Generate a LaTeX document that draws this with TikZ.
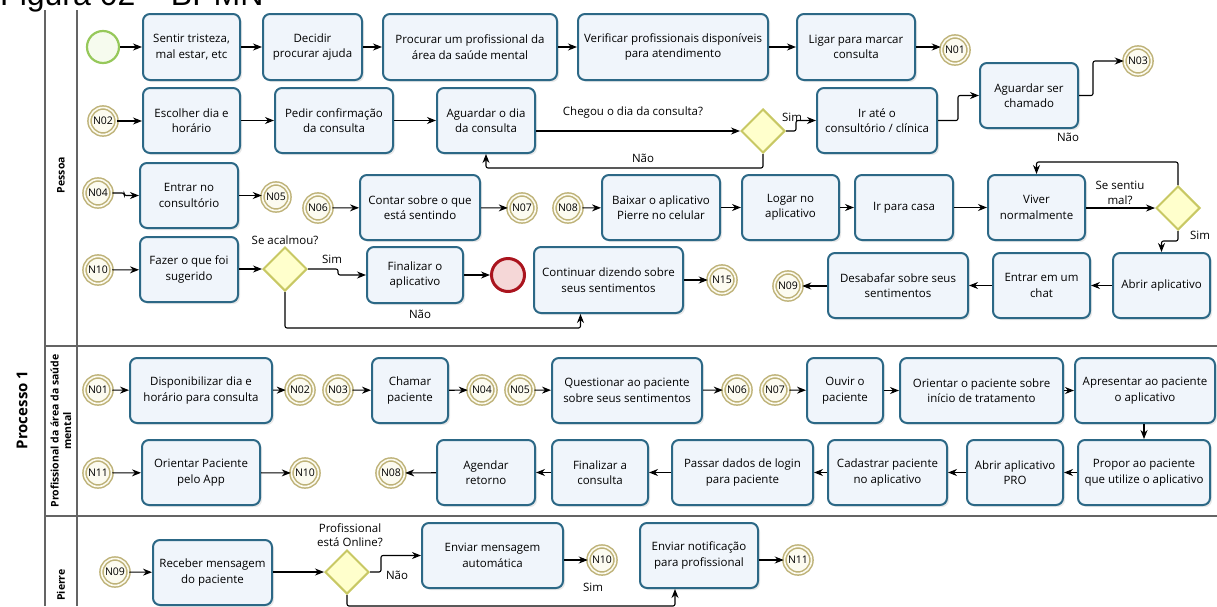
\documentclass[tikz,border=0pt]{standalone}
\usepackage{fontspec}
\setmainfont{Open Sans}
\newfontfamily\titlefont{Liberation Sans}
\usetikzlibrary{arrows.meta,shadows,shapes.geometric,calc}
\definecolor{taskborder}{RGB}{44,104,134}
\definecolor{taskfill}{RGB}{240,245,251}
\definecolor{evborder}{RGB}{190,178,120}
\definecolor{evfill}{RGB}{252,251,240}
\definecolor{gwborder}{RGB}{200,200,100}
\definecolor{gwfill}{RGB}{255,255,204}
\definecolor{startborder}{RGB}{150,200,90}
\definecolor{startfill}{RGB}{246,251,238}
\definecolor{endborder}{RGB}{170,20,30}
\definecolor{endfill}{RGB}{245,215,215}
\definecolor{laneline}{RGB}{100,100,100}
\tikzset{
  task/.style={draw=taskborder, line width=2pt, fill=taskfill, rounded corners=7pt,
    align=center, font=\fontsize{11.5}{15.5}\selectfont, inner sep=2pt,
    drop shadow={opacity=0.18, shadow xshift=2pt, shadow yshift=-2pt}},
  ievent/.style={circle, draw=evborder, line width=1.5pt, double=evfill, double distance=1.6pt,
    fill=evfill, minimum size=27pt, inner sep=0pt, font=\fontsize{10.5}{12}\selectfont},
  startev/.style={circle, draw=startborder, line width=2.2pt, fill=startfill, minimum size=32pt, inner sep=0pt},
  endev/.style={circle, draw=endborder, line width=3pt, fill=endfill, minimum size=33pt, inner sep=0pt},
  gateway/.style={diamond, draw=gwborder, line width=2pt, fill=gwfill, minimum width=44pt,
    minimum height=44pt, inner sep=0pt},
  flow/.style={draw=black, line width=1.1pt, rounded corners=2pt, -{Stealth[length=9pt,width=7pt]}},
  lbl/.style={font=\fontsize{11.5}{14.5}\selectfont, inner sep=0pt, align=center},
  lanelbl/.style={font=\bfseries\fontsize{10.5}{12.5}\selectfont, rotate=90, align=center, inner sep=0pt},
  poolline/.style={draw=laneline, line width=1.3pt}
}
\newcommand\tsk[6]{\node[task, minimum width={#4-#2}, minimum height={#5-#3}] (#1) at ({(#2+#4)/2},{(#3+#5)/2}) {#6};}
\begin{document}
\begin{tikzpicture}[x=1pt,y=-1pt]
\useasboundingbox (0,0) rectangle (1217,606);
% title (cut at top, as in the reference)
\node[anchor=base west, inner sep=0pt, font=\titlefont\fontsize{32}{36}\selectfont] (title) at (0,5) {Figura 02 – BPMN};
% pool and lanes
\draw[poolline] (45,10) -- (45,606);
\draw[poolline] (77,10) -- (77,606);
\draw[poolline] (45,346) -- (1217,346);
\draw[poolline] (45,516) -- (1217,516);
\node[font=\bfseries\fontsize{15}{17}\selectfont, rotate=90, inner sep=0pt] (proc) at (22,410) {Processo 1};
\node[lanelbl] (lpessoa) at (61,175) {Pessoa};
\node[lanelbl] (lprof) at (61,431) {Profissional da área da saúde\\mental};
\node[lanelbl] (lpierre) at (61,585) {Pierre};

% ---------------- Pessoa lane ----------------
% row 1
\node[startev] (start) at (103,47) {};
\tsk{s1}{143}{14}{240}{80}{Sentir tristeza,\\mal estar, etc}
\tsk{s2}{263}{14}{362}{80}{Decidir\\procurar ajuda}
\tsk{s3}{383}{14}{557}{80}{Procurar um profissional da\\área da saúde mental}
\tsk{s4}{578}{14}{768}{80}{Verificar profissionais disponíveis\\para atendimento}
\tsk{s5}{797}{14}{915}{80}{Ligar para marcar\\consulta}
\node[ievent] (n01a) at (955,50) {N01};
\draw[flow] (start) -- (s1);
\draw[flow] (s1) -- (s2);
\draw[flow] (s2) -- (s3);
\draw[flow] (s3) -- (s4);
\draw[flow] (s4) -- (s5);
\draw[flow] (s5.east) -- (s5.east -| n01a.west);

% row 2
\node[ievent] (n02a) at (103,121) {N02};
\tsk{esc}{143}{88}{240}{153}{Escolher dia e\\horário}
\tsk{ped}{275}{88}{393}{153}{Pedir confirmação\\da consulta}
\tsk{agd}{437}{88}{535}{153}{Aguardar o dia\\da consulta}
\node[gateway] (d1) at (763,131) {};
\tsk{ira}{817}{88}{937}{153}{Ir até o\\consultório / clínica}
\tsk{asc}{980}{63}{1078}{128}{Aguardar ser\\chamado}
\node[ievent] (n03a) at (1138,61) {N03};
\draw[flow] (n02a.east) -- (n02a.east -| esc.west);
\draw[flow] (esc) -- (ped);
\draw[flow] (ped) -- (agd);
\draw[flow] (d1.west -| agd.east) -- (d1.west);
\draw[flow] (d1.east) -- ++(10,0) |- (ira.west);
\draw[flow] (d1.south) -- ++(0,14) -| (agd.south);
\draw[flow] (ira.east) -- ++(20,0) |- (asc.west);
\draw[flow] (asc.east) -- ++(14,0) |- (n03a.west);
\node[lbl] (lchegou) at (633,113) {Chegou o dia da consulta?};
\node[lbl] (lsim1) at (792,117) {Sim};
\node[lbl] (lnao1) at (643,158) {Não};
\node[lbl] (lnao2) at (1068,137) {Não};

% row 3
\node[ievent] (n04a) at (98,193) {N04};
\tsk{ent}{140}{163}{238}{228}{Entrar no\\consultório}
\node[ievent] (n05a) at (276,197) {N05};
\node[ievent] (n06a) at (318,208) {N06};
\tsk{con}{360}{175}{480}{240}{Contar sobre o que\\está sentindo}
\node[ievent] (n07a) at (522,208) {N07};
\node[ievent] (n08a) at (568,208) {N08};
\tsk{bai}{602}{175}{720}{240}{Baixar o aplicativo\\Pierre no celular}
\tsk{log}{742}{175}{839}{240}{Logar no\\aplicativo}
\tsk{cas}{855}{175}{953}{240}{Ir para casa}
\tsk{viv}{988}{175}{1085}{240}{Viver\\normalmente}
\node[gateway] (d2) at (1178,208) {};
\draw[flow] (n04a.east) -- ++(12,0) |- (ent.west);
\draw[flow] (ent.east) -- (ent.east -| n05a.west);
\draw[flow] (n06a) -- (con);
\draw[flow] (con) -- (n07a);
\draw[flow] (n08a) -- (bai);
\draw[flow] (bai) -- (log);
\draw[flow] (log) -- (cas);
\draw[flow] (cas) -- (viv);
\draw[flow] (viv.east |- d2.west) -- (d2.west);
\draw[flow] (d2.north) -- ++(0,-23) -| (viv.north);
\node[lbl] (lsentiu) at (1120,193) {Se sentiu\\mal?};
\node[lbl] (lsim2) at (1200,235) {Sim};

% row 4
\node[ievent] (n10a) at (98,270) {N10};
\tsk{faz}{140}{237}{238}{302}{Fazer o que foi\\sugerido}
\node[gateway] (d3) at (285,269) {};
\tsk{fin}{367}{247}{463}{303}{Finalizar o\\aplicativo}
\node[endev] (endv) at (508,275) {};
\tsk{cnt}{534}{247}{683}{313}{Continuar dizendo sobre\\seus sentimentos}
\node[ievent] (n15a) at (722,280) {N15};
\node[ievent] (n09a) at (788,286) {N09};
\tsk{des}{828}{253}{968}{318}{Desabafar sobre seus\\sentimentos}
\tsk{cha}{993}{253}{1090}{318}{Entrar em um\\chat}
\tsk{abr}{1113}{253}{1210}{318}{Abrir aplicativo}
\draw[flow] (d2.south) -- ++(0,10) -| (abr.north);
\draw[flow] (n10a) -- (faz);
\draw[flow] (faz.east |- d3.west) -- (d3.west);
\draw[flow] (d3.east) -- ++(30,0) |- (fin.west);
\draw[flow] (fin) -- (endv);
\draw[flow] (cnt.east |- n15a.west) -- (n15a.west);
\draw[flow] (d3.south) -- ++(0,36) -| ([xshift=-28pt]cnt.south);
\draw[flow] (abr) -- (cha);
\draw[flow] (cha) -- (des);
\draw[flow] (des.west |- n09a.east) -- (n09a.east);
\node[lbl] (lacalmou) at (285,240) {Se acalmou?};
\node[lbl] (lsim3) at (332,259) {Sim};
\node[lbl] (lnao3) at (420,314) {Não};

% ---------------- Profissional lane ----------------
\node[ievent] (n01b) at (98,390) {N01};
\tsk{dis}{130}{358}{272}{423}{Disponibilizar dia e\\horário para consulta}
\node[ievent] (n02b) at (300,390) {N02};
\node[ievent] (n03b) at (338,390) {N03};
\tsk{chp}{372}{358}{448}{423}{Chamar\\paciente}
\node[ievent] (n04b) at (482,390) {N04};
\node[ievent] (n05b) at (520,390) {N05};
\tsk{que}{552}{358}{702}{423}{Questionar ao paciente\\sobre seus sentimentos}
\node[ievent] (n06b) at (737,390) {N06};
\node[ievent] (n07b) at (775,390) {N07};
\tsk{ouv}{807}{358}{883}{423}{Ouvir o\\paciente}
\tsk{ori}{900}{358}{1063}{423}{Orientar o paciente sobre\\início de tratamento}
\tsk{apr}{1075}{358}{1215}{423}{Apresentar ao paciente\\o aplicativo}
\draw[flow] (n01b) -- (dis);
\draw[flow] (dis) -- (n02b);
\draw[flow] (n03b) -- (chp);
\draw[flow] (chp) -- (n04b);
\draw[flow] (n05b) -- (que);
\draw[flow] (que) -- (n06b);
\draw[flow] (n07b) -- (ouv);
\draw[flow] (ouv) -- (ori);
\draw[flow] (ori) -- (apr);

\node[ievent] (n11b) at (98,473) {N11};
\tsk{opa}{142}{440}{260}{505}{Orientar Paciente\\pelo App}
\node[ievent] (n10b) at (305,473) {N10};
\node[ievent] (n08b) at (391,473) {N08};
\tsk{age}{437}{440}{535}{505}{Agendar\\retorno}
\tsk{fic}{552}{440}{648}{505}{Finalizar a\\consulta}
\tsk{pas}{672}{440}{813}{505}{Passar dados de login\\para paciente}
\tsk{cad}{828}{440}{947}{505}{Cadastrar paciente\\no aplicativo}
\tsk{apo}{967}{440}{1063}{505}{Abrir aplicativo\\PRO}
\tsk{pro}{1078}{440}{1210}{505}{Propor ao paciente\\que utilize o aplicativo}
\draw[flow] (apr.south -| pro.north) -- (pro.north);
\draw[flow] (n11b) -- (opa);
\draw[flow] (opa) -- (n10b);
\draw[flow] (pro) -- (apo);
\draw[flow] (apo) -- (cad);
\draw[flow] (cad) -- (pas);
\draw[flow] (pas) -- (fic);
\draw[flow] (fic) -- (age);
\draw[flow] (age) -- (n08b);

% ---------------- Pierre lane ----------------
\node[ievent] (n09c) at (115,572) {N09};
\tsk{rec}{153}{540}{272}{605}{Receber mensagem\\do paciente}
\node[gateway] (d4) at (347,572) {};
\tsk{env}{422}{523}{563}{588}{Enviar mensagem\\automática}
\node[ievent] (n10c) at (602,560) {N10};
\tsk{enn}{640}{523}{758}{588}{Enviar notificação\\para profissional}
\node[ievent] (n11c) at (798,560) {N11};
\draw[flow] (n09c) -- (rec);
\draw[flow] (rec.east |- d4.west) -- (d4.west);
\draw[flow] (d4.east) -- ++(11,0) |- (env.west);
\draw[flow] (env.east |- n10c.west) -- (n10c.west);
\draw[flow] (d4.south) -- ++(0,11) -| ([xshift=-24pt]enn.south);
\draw[flow] (enn.east |- n11c.west) -- (n11c.west);
\node[lbl] (lonline) at (350,535) {Profissional\\está Online?};
\node[lbl] (lnao4) at (397,575) {Não};
\node[lbl] (lsim4) at (593,587) {Sim};
\end{tikzpicture}
\end{document}
